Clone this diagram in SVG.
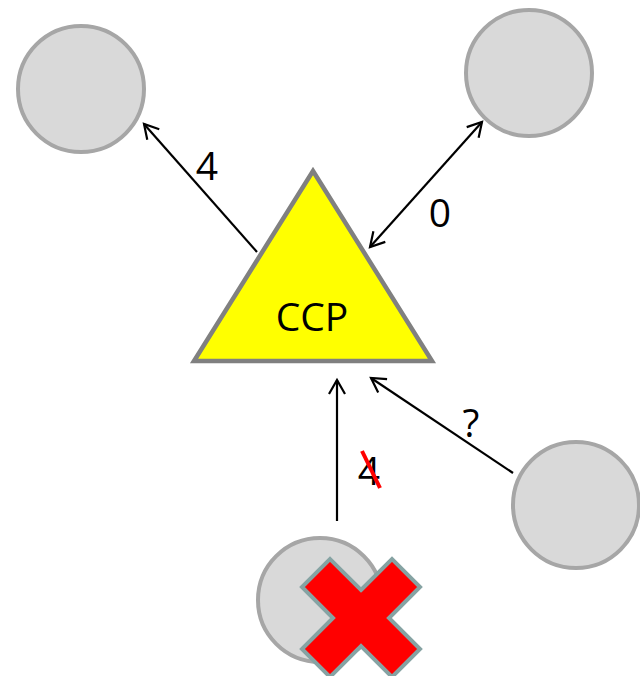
<svg xmlns="http://www.w3.org/2000/svg" width="640" height="676" viewBox="0 0 640 676">
<defs>
<style>
.node{fill:#d9d9d9;stroke:#a6a6a6;stroke-width:4}
.conn{stroke:#000;stroke-width:2.2;fill:none}
.lbl{font-family:"Open Sans","Liberation Sans",sans-serif;font-size:39px;fill:#000;text-anchor:middle}
</style>
<marker id="ah" markerUnits="userSpaceOnUse" viewBox="-16 -10 20 20" refX="0" refY="0" markerWidth="20" markerHeight="20" orient="auto-start-reverse">
<path d="M-14,-8 L0,0 L-14,8" fill="none" stroke="#000" stroke-width="2.2"/>
</marker>
</defs>
<rect width="640" height="676" fill="#fff"/>
<g id="connectors">
<line class="conn" x1="257" y1="252" x2="144" y2="124" marker-end="url(#ah)"/>
<line class="conn" x1="370" y1="247" x2="482" y2="122" marker-start="url(#ah)" marker-end="url(#ah)"/>
<line class="conn" x1="337" y1="521" x2="337" y2="380" marker-end="url(#ah)"/>
<line class="conn" x1="513" y1="473" x2="371" y2="378" marker-end="url(#ah)"/>
</g>
<g id="n-topleft"><circle class="node" cx="81" cy="89" r="63"/></g>
<g id="n-topright"><circle class="node" cx="529" cy="73" r="63"/></g>
<g id="n-right"><circle class="node" cx="576" cy="505" r="63"/></g>
<g id="n-bottom"><circle class="node" cx="320" cy="600" r="62"/>
<polygon points="361,590 392,559 420,587 389,618 420,649 392,677 361,646 330,677 302,649 333,618 302,587 330,559" fill="#ff0000" stroke="#86a3a3" stroke-width="4" stroke-linejoin="miter"/>
</g>
<g id="ccp">
<polygon points="313,171 432,361 194,361" fill="#ffff00" stroke="#808080" stroke-width="4.5" stroke-linejoin="miter"/>
<text class="lbl" x="312" y="331">CCP</text>
</g>
<g id="labels">
<text class="lbl" x="207" y="180">4</text>
<text class="lbl" x="440" y="227">0</text>
<text class="lbl" x="471" y="437">?</text>
<text class="lbl" x="369" y="485">4</text>
<line x1="362" y1="451" x2="380" y2="488" stroke="#ff0000" stroke-width="4"/>
</g>
</svg>
